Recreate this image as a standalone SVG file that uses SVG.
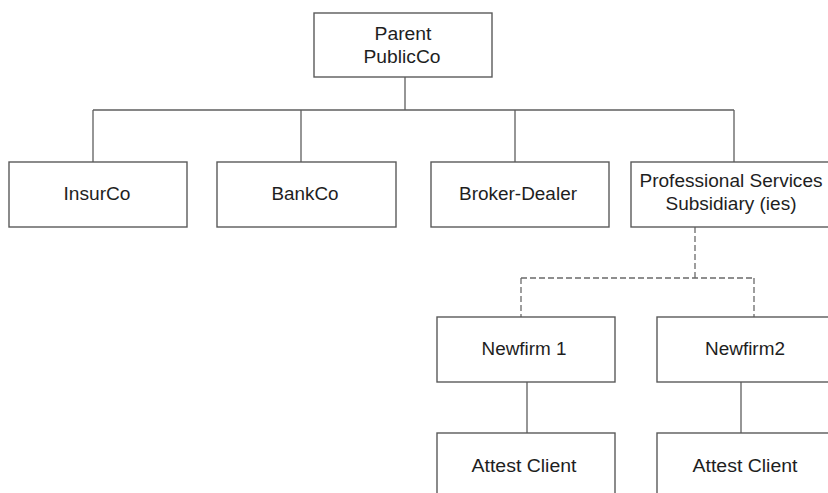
<svg xmlns="http://www.w3.org/2000/svg" width="828" height="493" viewBox="0 0 828 493">
<style>
.box{fill:#fff;stroke:#5a5a5a;stroke-width:1.4}
.t{font-family:"Liberation Sans",Arial,sans-serif;font-size:17.5px;fill:#1e1e1e;text-anchor:middle}
.c{fill:none;stroke:#5f5f5f;stroke-width:1.3}
.d{fill:none;stroke:#6a6a6a;stroke-width:1.3;stroke-dasharray:6,3}
</style>
<rect width="828" height="493" fill="#fff"/>
<g id="connectors">
<path class="c" d="M405,77V110M93,110H734M93,110V162M301,110V162M515,110V162M734,110V162"/>
<path class="d" d="M695,227V278M521,278H754M521,278V317M754,278V317"/>
<path class="c" d="M527,382V433M741,382V433"/>
</g>
<g id="parent">
<rect class="box" x="314" y="13" width="178" height="64"/>
<text class="t" x="403" y="40" textLength="57" lengthAdjust="spacingAndGlyphs">Parent</text>
<text class="t" x="402" y="63" textLength="77" lengthAdjust="spacingAndGlyphs">PublicCo</text>
</g>
<g id="insurco">
<rect class="box" x="9" y="162" width="178" height="65"/>
<text class="t" x="97" y="200" textLength="67" lengthAdjust="spacingAndGlyphs">InsurCo</text>
</g>
<g id="bankco">
<rect class="box" x="217" y="162" width="179" height="65"/>
<text class="t" x="305" y="200" textLength="67" lengthAdjust="spacingAndGlyphs">BankCo</text>
</g>
<g id="broker">
<rect class="box" x="431" y="162" width="178" height="65"/>
<text class="t" x="518" y="200" textLength="118" lengthAdjust="spacingAndGlyphs">Broker-Dealer</text>
</g>
<g id="profservices">
<rect class="box" x="631" y="162" width="205" height="65"/>
<text class="t" x="731" y="187" textLength="183" lengthAdjust="spacingAndGlyphs">Professional Services</text>
<text class="t" x="731" y="210" textLength="131" lengthAdjust="spacingAndGlyphs">Subsidiary (ies)</text>
</g>
<g id="newfirm1">
<rect class="box" x="437" y="317" width="178" height="65"/>
<text class="t" x="524" y="355" textLength="85" lengthAdjust="spacingAndGlyphs">Newfirm 1</text>
</g>
<g id="newfirm2">
<rect class="box" x="657" y="317" width="178" height="65"/>
<text class="t" x="745" y="355" textLength="80" lengthAdjust="spacingAndGlyphs">Newfirm2</text>
</g>
<g id="attest1">
<rect class="box" x="437" y="433" width="178" height="70"/>
<text class="t" x="524" y="472" textLength="105" lengthAdjust="spacingAndGlyphs">Attest Client</text>
</g>
<g id="attest2">
<rect class="box" x="657" y="433" width="178" height="70"/>
<text class="t" x="745" y="472" textLength="105" lengthAdjust="spacingAndGlyphs">Attest Client</text>
</g>
</svg>
